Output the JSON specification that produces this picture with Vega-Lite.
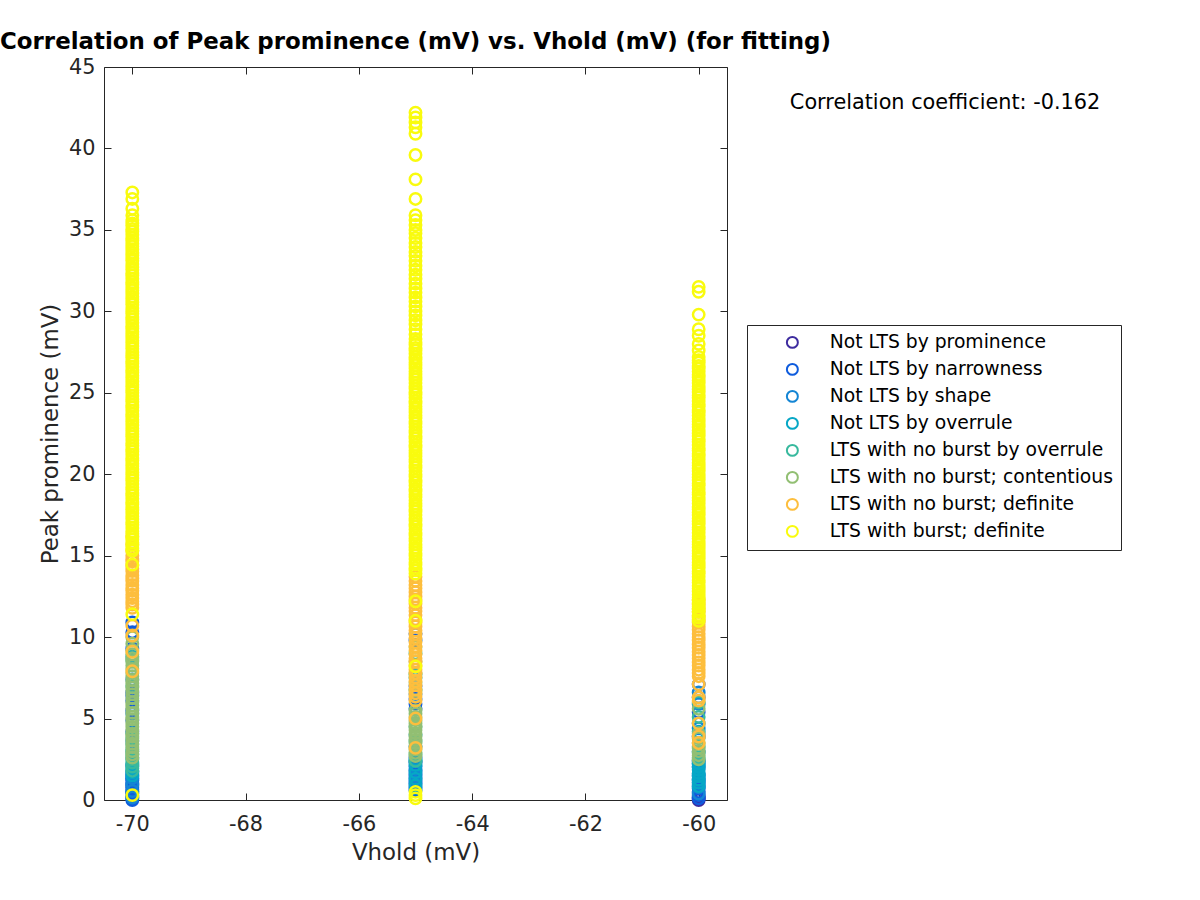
{
"$schema":"https://vega.github.io/schema/vega-lite/v6.json",
"width":623,"height":733,
"autosize":{"type":"none"},
"padding":{"left":104,"top":67,"right":473,"bottom":100},
"background":"white",
"config":{"view":{"stroke":null},"font":"DejaVu Sans"},
"title":{"text":"Correlation of Peak prominence (mV) vs. Vhold (mV) (for fitting)","font":"DejaVu Sans","fontSize":22.9,"fontWeight":"bold","color":"black","anchor":"middle","frame":"group","baseline":"alphabetic","offset":-16},
"layer":[
{"data":{"values":[
{"x":-70,"c":2,"y":0.0},{"x":-70,"c":2,"y":0.1},{"x":-70,"c":2,"y":0.25},{"x":-70,"c":2,"y":0.4},{"x":-70,"c":2,"y":0.5},{"x":-70,"c":2,"y":0.65},{"x":-70,"c":2,"y":0.8},{"x":-70,"c":2,"y":0.9},{"x":-70,"c":2,"y":1.05},{"x":-70,"c":2,"y":1.2},{"x":-70,"c":2,"y":1.3},{"x":-70,"c":2,"y":1.45},{"x":-70,"c":2,"y":1.6},{"x":-70,"c":2,"y":2.1},{"x":-70,"c":2,"y":4.2},{"x":-70,"c":2,"y":4.9},{"x":-70,"c":2,"y":5.5},{"x":-70,"c":2,"y":6.1},{"x":-70,"c":2,"y":6.4},{"x":-70,"c":2,"y":6.6},{"x":-70,"c":2,"y":9.3},{"x":-70,"c":2,"y":10.3},{"x":-70,"c":2,"y":10.9},
{"x":-70,"c":3,"y":0.15},{"x":-70,"c":3,"y":0.55},{"x":-70,"c":3,"y":0.95},{"x":-70,"c":3,"y":1.35},{"x":-70,"c":3,"y":1.75},{"x":-70,"c":3,"y":3.6},{"x":-70,"c":3,"y":5.3},{"x":-70,"c":3,"y":7.4},
{"x":-70,"c":4,"y":1.5},{"x":-70,"c":4,"y":1.7},{"x":-70,"c":4,"y":1.95},{"x":-70,"c":4,"y":2.2},{"x":-70,"c":4,"y":2.6},{"x":-70,"c":4,"y":3.0},{"x":-70,"c":4,"y":8.8},
{"x":-70,"c":5,"y":1.8},{"x":-70,"c":5,"y":2.05},{"x":-70,"c":5,"y":2.3},{"x":-70,"c":5,"y":2.5},{"x":-70,"c":5,"y":2.8},{"x":-70,"c":5,"y":3.1},{"x":-70,"c":5,"y":3.4},{"x":-70,"c":5,"y":3.8},{"x":-70,"c":5,"y":4.1},{"x":-70,"c":5,"y":7.0},{"x":-70,"c":5,"y":8.6},
{"x":-70,"c":6,"y":2.6},{"x":-70,"c":6,"y":2.8},{"x":-70,"c":6,"y":3.0},{"x":-70,"c":6,"y":3.25},{"x":-70,"c":6,"y":3.45},{"x":-70,"c":6,"y":3.65},{"x":-70,"c":6,"y":3.9},{"x":-70,"c":6,"y":4.05},{"x":-70,"c":6,"y":4.3},{"x":-70,"c":6,"y":4.5},{"x":-70,"c":6,"y":4.7},{"x":-70,"c":6,"y":4.95},{"x":-70,"c":6,"y":5.1},{"x":-70,"c":6,"y":5.35},{"x":-70,"c":6,"y":5.6},{"x":-70,"c":6,"y":5.8},{"x":-70,"c":6,"y":6.0},{"x":-70,"c":6,"y":6.25},{"x":-70,"c":6,"y":6.5},{"x":-70,"c":6,"y":6.7},{"x":-70,"c":6,"y":6.9},{"x":-70,"c":6,"y":7.15},{"x":-70,"c":6,"y":7.35},{"x":-70,"c":6,"y":7.6},{"x":-70,"c":6,"y":7.8},{"x":-70,"c":6,"y":8.05},{"x":-70,"c":6,"y":8.25},{"x":-70,"c":6,"y":8.5},{"x":-70,"c":6,"y":8.7},{"x":-70,"c":6,"y":8.95},{"x":-70,"c":6,"y":9.2},{"x":-70,"c":6,"y":9.6},{"x":-70,"c":6,"y":10.0},
{"x":-70,"c":7,"y":7.9},{"x":-70,"c":7,"y":9.1},{"x":-70,"c":7,"y":10.1},{"x":-70,"c":7,"y":10.7},{"x":-70,"c":7,"y":11.8},{"x":-70,"c":7,"y":12.0},{"x":-70,"c":7,"y":12.2},{"x":-70,"c":7,"y":12.4},{"x":-70,"c":7,"y":12.6},{"x":-70,"c":7,"y":12.85},{"x":-70,"c":7,"y":13.0},{"x":-70,"c":7,"y":13.2},{"x":-70,"c":7,"y":13.45},{"x":-70,"c":7,"y":13.6},{"x":-70,"c":7,"y":13.8},{"x":-70,"c":7,"y":14.05},{"x":-70,"c":7,"y":14.2},{"x":-70,"c":7,"y":14.4},{"x":-70,"c":7,"y":14.65},{"x":-70,"c":7,"y":14.8},{"x":-70,"c":7,"y":15.0},{"x":-70,"c":7,"y":15.3},{"x":-70,"c":7,"y":15.7},{"x":-70,"c":7,"y":16.2},
{"x":-70,"c":8,"y":0.3},{"x":-70,"c":8,"y":11.4},{"x":-70,"c":8,"y":14.45},
{"x":-70,"c":8,"y":15.3},{"x":-70,"c":8,"y":15.45},{"x":-70,"c":8,"y":15.65},{"x":-70,"c":8,"y":15.8},{"x":-70,"c":8,"y":16.0},{"x":-70,"c":8,"y":16.15},{"x":-70,"c":8,"y":16.35},{"x":-70,"c":8,"y":16.5},{"x":-70,"c":8,"y":16.7},{"x":-70,"c":8,"y":16.9},{"x":-70,"c":8,"y":17.05},{"x":-70,"c":8,"y":17.25},{"x":-70,"c":8,"y":17.4},{"x":-70,"c":8,"y":17.6},{"x":-70,"c":8,"y":17.8},{"x":-70,"c":8,"y":17.95},{"x":-70,"c":8,"y":18.15},{"x":-70,"c":8,"y":18.3},{"x":-70,"c":8,"y":18.5},{"x":-70,"c":8,"y":18.7},{"x":-70,"c":8,"y":18.85},{"x":-70,"c":8,"y":19.05},{"x":-70,"c":8,"y":19.2},{"x":-70,"c":8,"y":19.4},{"x":-70,"c":8,"y":19.6},{"x":-70,"c":8,"y":19.75},{"x":-70,"c":8,"y":19.95},{"x":-70,"c":8,"y":20.1},{"x":-70,"c":8,"y":20.3},{"x":-70,"c":8,"y":20.5},{"x":-70,"c":8,"y":20.65},{"x":-70,"c":8,"y":20.85},{"x":-70,"c":8,"y":21.0},{"x":-70,"c":8,"y":21.2},{"x":-70,"c":8,"y":21.4},{"x":-70,"c":8,"y":21.55},{"x":-70,"c":8,"y":21.75},{"x":-70,"c":8,"y":21.9},{"x":-70,"c":8,"y":22.1},{"x":-70,"c":8,"y":22.3},{"x":-70,"c":8,"y":22.45},{"x":-70,"c":8,"y":22.65},{"x":-70,"c":8,"y":22.8},{"x":-70,"c":8,"y":23.0},{"x":-70,"c":8,"y":23.2},{"x":-70,"c":8,"y":23.35},{"x":-70,"c":8,"y":23.55},{"x":-70,"c":8,"y":23.7},{"x":-70,"c":8,"y":23.9},{"x":-70,"c":8,"y":24.1},{"x":-70,"c":8,"y":24.25},{"x":-70,"c":8,"y":24.45},{"x":-70,"c":8,"y":24.6},{"x":-70,"c":8,"y":24.8},{"x":-70,"c":8,"y":25.0},{"x":-70,"c":8,"y":25.15},{"x":-70,"c":8,"y":25.35},{"x":-70,"c":8,"y":25.5},{"x":-70,"c":8,"y":25.7},{"x":-70,"c":8,"y":25.9},{"x":-70,"c":8,"y":26.05},{"x":-70,"c":8,"y":26.25},{"x":-70,"c":8,"y":26.4},{"x":-70,"c":8,"y":26.6},{"x":-70,"c":8,"y":26.8},{"x":-70,"c":8,"y":26.95},{"x":-70,"c":8,"y":27.15},{"x":-70,"c":8,"y":27.3},{"x":-70,"c":8,"y":27.5},{"x":-70,"c":8,"y":27.7},{"x":-70,"c":8,"y":27.85},{"x":-70,"c":8,"y":28.05},{"x":-70,"c":8,"y":28.2},{"x":-70,"c":8,"y":28.4},{"x":-70,"c":8,"y":28.6},{"x":-70,"c":8,"y":28.75},{"x":-70,"c":8,"y":28.95},{"x":-70,"c":8,"y":29.1},{"x":-70,"c":8,"y":29.3},{"x":-70,"c":8,"y":29.5},{"x":-70,"c":8,"y":29.65},{"x":-70,"c":8,"y":29.85},{"x":-70,"c":8,"y":30.0},{"x":-70,"c":8,"y":30.2},{"x":-70,"c":8,"y":30.4},{"x":-70,"c":8,"y":30.55},{"x":-70,"c":8,"y":30.75},{"x":-70,"c":8,"y":30.9},{"x":-70,"c":8,"y":31.1},{"x":-70,"c":8,"y":31.3},{"x":-70,"c":8,"y":31.45},{"x":-70,"c":8,"y":31.65},{"x":-70,"c":8,"y":31.8},{"x":-70,"c":8,"y":32.0},{"x":-70,"c":8,"y":32.2},{"x":-70,"c":8,"y":32.35},{"x":-70,"c":8,"y":32.55},{"x":-70,"c":8,"y":32.7},{"x":-70,"c":8,"y":32.9},{"x":-70,"c":8,"y":33.1},{"x":-70,"c":8,"y":33.25},{"x":-70,"c":8,"y":33.45},{"x":-70,"c":8,"y":33.6},{"x":-70,"c":8,"y":33.8},{"x":-70,"c":8,"y":34.0},{"x":-70,"c":8,"y":34.15},{"x":-70,"c":8,"y":34.35},{"x":-70,"c":8,"y":34.5},{"x":-70,"c":8,"y":34.7},{"x":-70,"c":8,"y":34.9},{"x":-70,"c":8,"y":35.05},{"x":-70,"c":8,"y":35.25},{"x":-70,"c":8,"y":35.4},{"x":-70,"c":8,"y":35.6},{"x":-70,"c":8,"y":35.9},{"x":-70,"c":8,"y":36.3},{"x":-70,"c":8,"y":36.9},{"x":-70,"c":8,"y":37.3},
{"x":-65,"c":2,"y":0.6},{"x":-65,"c":2,"y":0.8},{"x":-65,"c":2,"y":1.0},{"x":-65,"c":2,"y":1.2},{"x":-65,"c":2,"y":1.4},{"x":-65,"c":2,"y":1.6},{"x":-65,"c":2,"y":1.8},{"x":-65,"c":2,"y":2.05},{"x":-65,"c":2,"y":2.3},{"x":-65,"c":2,"y":2.6},{"x":-65,"c":2,"y":5.6},{"x":-65,"c":2,"y":5.9},{"x":-65,"c":2,"y":6.2},{"x":-65,"c":2,"y":7.0},{"x":-65,"c":2,"y":9.8},{"x":-65,"c":2,"y":10.2},
{"x":-65,"c":3,"y":0.7},{"x":-65,"c":3,"y":1.1},{"x":-65,"c":3,"y":1.5},{"x":-65,"c":3,"y":1.9},{"x":-65,"c":3,"y":2.4},{"x":-65,"c":3,"y":3.3},{"x":-65,"c":3,"y":6.5},
{"x":-65,"c":4,"y":0.9},{"x":-65,"c":4,"y":1.3},{"x":-65,"c":4,"y":1.7},{"x":-65,"c":4,"y":2.15},{"x":-65,"c":4,"y":2.5},{"x":-65,"c":4,"y":4.0},{"x":-65,"c":4,"y":7.5},
{"x":-65,"c":5,"y":2.4},{"x":-65,"c":5,"y":2.8},{"x":-65,"c":5,"y":3.6},{"x":-65,"c":5,"y":4.5},{"x":-65,"c":5,"y":6.8},{"x":-65,"c":5,"y":7.7},{"x":-65,"c":5,"y":9.0},
{"x":-65,"c":6,"y":2.7},{"x":-65,"c":6,"y":2.9},{"x":-65,"c":6,"y":3.1},{"x":-65,"c":6,"y":3.3},{"x":-65,"c":6,"y":3.5},{"x":-65,"c":6,"y":3.7},{"x":-65,"c":6,"y":3.9},{"x":-65,"c":6,"y":4.1},{"x":-65,"c":6,"y":4.3},{"x":-65,"c":6,"y":4.5},{"x":-65,"c":6,"y":4.7},{"x":-65,"c":6,"y":4.9},{"x":-65,"c":6,"y":5.1},{"x":-65,"c":6,"y":5.3},{"x":-65,"c":6,"y":5.5},{"x":-65,"c":6,"y":6.7},{"x":-65,"c":6,"y":7.2},{"x":-65,"c":6,"y":7.8},{"x":-65,"c":6,"y":8.5},{"x":-65,"c":6,"y":9.4},
{"x":-65,"c":7,"y":3.2},{"x":-65,"c":7,"y":5.0},{"x":-65,"c":7,"y":6.1},{"x":-65,"c":7,"y":6.35},{"x":-65,"c":7,"y":6.55},{"x":-65,"c":7,"y":6.8},{"x":-65,"c":7,"y":7.05},{"x":-65,"c":7,"y":7.3},{"x":-65,"c":7,"y":7.55},{"x":-65,"c":7,"y":7.8},{"x":-65,"c":7,"y":8.0},{"x":-65,"c":7,"y":8.25},{"x":-65,"c":7,"y":8.5},{"x":-65,"c":7,"y":8.7},{"x":-65,"c":7,"y":8.95},{"x":-65,"c":7,"y":9.2},{"x":-65,"c":7,"y":9.45},{"x":-65,"c":7,"y":9.7},{"x":-65,"c":7,"y":9.95},{"x":-65,"c":7,"y":10.2},{"x":-65,"c":7,"y":10.4},{"x":-65,"c":7,"y":10.65},{"x":-65,"c":7,"y":10.9},{"x":-65,"c":7,"y":11.1},{"x":-65,"c":7,"y":11.35},{"x":-65,"c":7,"y":11.6},{"x":-65,"c":7,"y":11.8},{"x":-65,"c":7,"y":12.05},{"x":-65,"c":7,"y":12.3},{"x":-65,"c":7,"y":12.5},{"x":-65,"c":7,"y":12.75},{"x":-65,"c":7,"y":13.0},{"x":-65,"c":7,"y":13.2},{"x":-65,"c":7,"y":13.45},{"x":-65,"c":7,"y":13.7},
{"x":-65,"c":8,"y":0.1},{"x":-65,"c":8,"y":0.3},{"x":-65,"c":8,"y":0.5},{"x":-65,"c":8,"y":8.2},{"x":-65,"c":8,"y":11.0},{"x":-65,"c":8,"y":12.2},
{"x":-65,"c":8,"y":13.9},{"x":-65,"c":8,"y":14.1},{"x":-65,"c":8,"y":14.25},{"x":-65,"c":8,"y":14.45},{"x":-65,"c":8,"y":14.6},{"x":-65,"c":8,"y":14.8},{"x":-65,"c":8,"y":15.0},{"x":-65,"c":8,"y":15.15},{"x":-65,"c":8,"y":15.35},{"x":-65,"c":8,"y":15.5},{"x":-65,"c":8,"y":15.7},{"x":-65,"c":8,"y":15.9},{"x":-65,"c":8,"y":16.05},{"x":-65,"c":8,"y":16.25},{"x":-65,"c":8,"y":16.4},{"x":-65,"c":8,"y":16.6},{"x":-65,"c":8,"y":16.8},{"x":-65,"c":8,"y":16.95},{"x":-65,"c":8,"y":17.15},{"x":-65,"c":8,"y":17.3},{"x":-65,"c":8,"y":17.5},{"x":-65,"c":8,"y":17.7},{"x":-65,"c":8,"y":17.85},{"x":-65,"c":8,"y":18.05},{"x":-65,"c":8,"y":18.2},{"x":-65,"c":8,"y":18.4},{"x":-65,"c":8,"y":18.6},{"x":-65,"c":8,"y":18.75},{"x":-65,"c":8,"y":18.95},{"x":-65,"c":8,"y":19.1},{"x":-65,"c":8,"y":19.3},{"x":-65,"c":8,"y":19.5},{"x":-65,"c":8,"y":19.65},{"x":-65,"c":8,"y":19.85},{"x":-65,"c":8,"y":20.0},{"x":-65,"c":8,"y":20.2},{"x":-65,"c":8,"y":20.4},{"x":-65,"c":8,"y":20.55},{"x":-65,"c":8,"y":20.75},{"x":-65,"c":8,"y":20.9},{"x":-65,"c":8,"y":21.1},{"x":-65,"c":8,"y":21.3},{"x":-65,"c":8,"y":21.45},{"x":-65,"c":8,"y":21.65},{"x":-65,"c":8,"y":21.8},{"x":-65,"c":8,"y":22.0},{"x":-65,"c":8,"y":22.2},{"x":-65,"c":8,"y":22.35},{"x":-65,"c":8,"y":22.55},{"x":-65,"c":8,"y":22.7},{"x":-65,"c":8,"y":22.9},{"x":-65,"c":8,"y":23.1},{"x":-65,"c":8,"y":23.25},{"x":-65,"c":8,"y":23.45},{"x":-65,"c":8,"y":23.6},{"x":-65,"c":8,"y":23.8},{"x":-65,"c":8,"y":24.0},{"x":-65,"c":8,"y":24.15},{"x":-65,"c":8,"y":24.35},{"x":-65,"c":8,"y":24.5},{"x":-65,"c":8,"y":24.7},{"x":-65,"c":8,"y":24.9},{"x":-65,"c":8,"y":25.05},{"x":-65,"c":8,"y":25.25},{"x":-65,"c":8,"y":25.4},{"x":-65,"c":8,"y":25.6},{"x":-65,"c":8,"y":25.8},{"x":-65,"c":8,"y":25.95},{"x":-65,"c":8,"y":26.15},{"x":-65,"c":8,"y":26.3},{"x":-65,"c":8,"y":26.5},{"x":-65,"c":8,"y":26.7},{"x":-65,"c":8,"y":26.85},{"x":-65,"c":8,"y":27.05},{"x":-65,"c":8,"y":27.2},{"x":-65,"c":8,"y":27.4},{"x":-65,"c":8,"y":27.6},{"x":-65,"c":8,"y":27.75},{"x":-65,"c":8,"y":27.95},{"x":-65,"c":8,"y":28.1},{"x":-65,"c":8,"y":28.3},{"x":-65,"c":8,"y":28.6},{"x":-65,"c":8,"y":28.9},{"x":-65,"c":8,"y":29.2},{"x":-65,"c":8,"y":29.45},{"x":-65,"c":8,"y":29.75},{"x":-65,"c":8,"y":30.0},{"x":-65,"c":8,"y":30.3},{"x":-65,"c":8,"y":30.6},{"x":-65,"c":8,"y":30.85},{"x":-65,"c":8,"y":31.15},{"x":-65,"c":8,"y":31.4},{"x":-65,"c":8,"y":31.7},{"x":-65,"c":8,"y":32.0},{"x":-65,"c":8,"y":32.25},{"x":-65,"c":8,"y":32.55},{"x":-65,"c":8,"y":32.8},{"x":-65,"c":8,"y":33.1},{"x":-65,"c":8,"y":33.4},{"x":-65,"c":8,"y":33.65},{"x":-65,"c":8,"y":33.95},{"x":-65,"c":8,"y":34.2},{"x":-65,"c":8,"y":34.5},{"x":-65,"c":8,"y":34.8},{"x":-65,"c":8,"y":35.0},{"x":-65,"c":8,"y":35.3},{"x":-65,"c":8,"y":35.6},{"x":-65,"c":8,"y":35.9},{"x":-65,"c":8,"y":36.9},{"x":-65,"c":8,"y":38.1},{"x":-65,"c":8,"y":39.6},{"x":-65,"c":8,"y":40.9},{"x":-65,"c":8,"y":41.3},{"x":-65,"c":8,"y":41.6},{"x":-65,"c":8,"y":41.9},{"x":-65,"c":8,"y":42.2},
{"x":-60,"c":1,"y":0.0},{"x":-60,"c":1,"y":0.1},{"x":-60,"c":1,"y":0.2},
{"x":-60,"c":2,"y":0.1},{"x":-60,"c":2,"y":0.3},{"x":-60,"c":2,"y":0.5},{"x":-60,"c":2,"y":0.7},{"x":-60,"c":2,"y":0.9},{"x":-60,"c":2,"y":1.1},{"x":-60,"c":2,"y":1.3},{"x":-60,"c":2,"y":1.5},{"x":-60,"c":2,"y":2.0},{"x":-60,"c":2,"y":2.4},{"x":-60,"c":2,"y":3.9},{"x":-60,"c":2,"y":5.4},{"x":-60,"c":2,"y":6.3},{"x":-60,"c":2,"y":7.1},
{"x":-60,"c":3,"y":0.4},{"x":-60,"c":3,"y":0.8},{"x":-60,"c":3,"y":1.2},{"x":-60,"c":3,"y":1.6},{"x":-60,"c":3,"y":2.2},{"x":-60,"c":3,"y":3.0},{"x":-60,"c":3,"y":4.4},{"x":-60,"c":3,"y":5.9},{"x":-60,"c":3,"y":6.6},
{"x":-60,"c":4,"y":0.85},{"x":-60,"c":4,"y":1.05},{"x":-60,"c":4,"y":1.25},{"x":-60,"c":4,"y":1.45},{"x":-60,"c":4,"y":1.65},{"x":-60,"c":4,"y":1.85},{"x":-60,"c":4,"y":2.05},{"x":-60,"c":4,"y":2.25},{"x":-60,"c":4,"y":2.45},{"x":-60,"c":4,"y":4.2},{"x":-60,"c":4,"y":4.7},
{"x":-60,"c":5,"y":2.6},{"x":-60,"c":5,"y":2.9},{"x":-60,"c":5,"y":3.3},{"x":-60,"c":5,"y":5.1},{"x":-60,"c":5,"y":6.0},
{"x":-60,"c":6,"y":2.5},{"x":-60,"c":6,"y":2.75},{"x":-60,"c":6,"y":3.0},{"x":-60,"c":6,"y":3.2},{"x":-60,"c":6,"y":3.5},{"x":-60,"c":6,"y":3.8},{"x":-60,"c":6,"y":4.1},{"x":-60,"c":6,"y":5.6},
{"x":-60,"c":7,"y":3.5},{"x":-60,"c":7,"y":3.9},{"x":-60,"c":7,"y":4.7},{"x":-60,"c":7,"y":6.1},{"x":-60,"c":7,"y":6.3},{"x":-60,"c":7,"y":7.1},{"x":-60,"c":7,"y":7.6},{"x":-60,"c":7,"y":7.8},{"x":-60,"c":7,"y":8.0},{"x":-60,"c":7,"y":8.25},{"x":-60,"c":7,"y":8.45},{"x":-60,"c":7,"y":8.7},{"x":-60,"c":7,"y":8.9},{"x":-60,"c":7,"y":9.1},{"x":-60,"c":7,"y":9.35},{"x":-60,"c":7,"y":9.55},{"x":-60,"c":7,"y":9.8},{"x":-60,"c":7,"y":10.0},{"x":-60,"c":7,"y":10.2},{"x":-60,"c":7,"y":10.45},{"x":-60,"c":7,"y":10.65},{"x":-60,"c":7,"y":10.9},{"x":-60,"c":7,"y":11.1},{"x":-60,"c":7,"y":11.3},{"x":-60,"c":7,"y":11.55},{"x":-60,"c":7,"y":11.75},{"x":-60,"c":7,"y":12.0},{"x":-60,"c":7,"y":12.3},
{"x":-60,"c":8,"y":11.0},{"x":-60,"c":8,"y":11.2},{"x":-60,"c":8,"y":11.35},{"x":-60,"c":8,"y":11.55},{"x":-60,"c":8,"y":11.7},{"x":-60,"c":8,"y":11.9},{"x":-60,"c":8,"y":12.1},{"x":-60,"c":8,"y":12.25},{"x":-60,"c":8,"y":12.45},{"x":-60,"c":8,"y":12.6},{"x":-60,"c":8,"y":12.8},{"x":-60,"c":8,"y":13.0},{"x":-60,"c":8,"y":13.15},{"x":-60,"c":8,"y":13.35},{"x":-60,"c":8,"y":13.5},{"x":-60,"c":8,"y":13.7},{"x":-60,"c":8,"y":13.9},{"x":-60,"c":8,"y":14.05},{"x":-60,"c":8,"y":14.25},{"x":-60,"c":8,"y":14.4},{"x":-60,"c":8,"y":14.6},{"x":-60,"c":8,"y":14.8},{"x":-60,"c":8,"y":14.95},{"x":-60,"c":8,"y":15.15},{"x":-60,"c":8,"y":15.3},{"x":-60,"c":8,"y":15.5},{"x":-60,"c":8,"y":15.7},{"x":-60,"c":8,"y":15.85},{"x":-60,"c":8,"y":16.05},{"x":-60,"c":8,"y":16.2},{"x":-60,"c":8,"y":16.4},{"x":-60,"c":8,"y":16.6},{"x":-60,"c":8,"y":16.75},{"x":-60,"c":8,"y":16.95},{"x":-60,"c":8,"y":17.1},{"x":-60,"c":8,"y":17.3},{"x":-60,"c":8,"y":17.5},{"x":-60,"c":8,"y":17.65},{"x":-60,"c":8,"y":17.85},{"x":-60,"c":8,"y":18.0},{"x":-60,"c":8,"y":18.2},{"x":-60,"c":8,"y":18.4},{"x":-60,"c":8,"y":18.55},{"x":-60,"c":8,"y":18.75},{"x":-60,"c":8,"y":18.9},{"x":-60,"c":8,"y":19.1},{"x":-60,"c":8,"y":19.3},{"x":-60,"c":8,"y":19.45},{"x":-60,"c":8,"y":19.65},{"x":-60,"c":8,"y":19.8},{"x":-60,"c":8,"y":20.0},{"x":-60,"c":8,"y":20.2},{"x":-60,"c":8,"y":20.35},{"x":-60,"c":8,"y":20.55},{"x":-60,"c":8,"y":20.7},{"x":-60,"c":8,"y":20.9},{"x":-60,"c":8,"y":21.1},{"x":-60,"c":8,"y":21.25},{"x":-60,"c":8,"y":21.45},{"x":-60,"c":8,"y":21.6},{"x":-60,"c":8,"y":21.8},{"x":-60,"c":8,"y":22.0},{"x":-60,"c":8,"y":22.15},{"x":-60,"c":8,"y":22.35},{"x":-60,"c":8,"y":22.5},{"x":-60,"c":8,"y":22.7},{"x":-60,"c":8,"y":22.9},{"x":-60,"c":8,"y":23.05},{"x":-60,"c":8,"y":23.25},{"x":-60,"c":8,"y":23.4},{"x":-60,"c":8,"y":23.6},{"x":-60,"c":8,"y":23.8},{"x":-60,"c":8,"y":23.95},{"x":-60,"c":8,"y":24.15},{"x":-60,"c":8,"y":24.3},{"x":-60,"c":8,"y":24.5},{"x":-60,"c":8,"y":24.7},{"x":-60,"c":8,"y":24.85},{"x":-60,"c":8,"y":25.05},{"x":-60,"c":8,"y":25.2},{"x":-60,"c":8,"y":25.4},{"x":-60,"c":8,"y":25.6},{"x":-60,"c":8,"y":25.75},{"x":-60,"c":8,"y":25.95},{"x":-60,"c":8,"y":26.1},{"x":-60,"c":8,"y":26.3},{"x":-60,"c":8,"y":26.5},{"x":-60,"c":8,"y":26.65},{"x":-60,"c":8,"y":26.85},{"x":-60,"c":8,"y":27.0},{"x":-60,"c":8,"y":27.2},{"x":-60,"c":8,"y":27.6},{"x":-60,"c":8,"y":28.0},{"x":-60,"c":8,"y":28.5},{"x":-60,"c":8,"y":28.9},{"x":-60,"c":8,"y":29.8},{"x":-60,"c":8,"y":31.2},{"x":-60,"c":8,"y":31.5}
]},
"mark":{"type":"point","shape":"circle","filled":false,"size":130,"strokeWidth":2.5,"opacity":1,"strokeOpacity":1},
"encoding":{
"x":{"field":"x","type":"quantitative","scale":{"domain":[-70.5,-59.5],"nice":false,"zero":false},
 "axis":{"orient":"bottom","values":[-70,-68,-66,-64,-62,-60],"labelExpr":"toString(datum.value)","title":"Vhold (mV)","titleFont":"DejaVu Sans","titleFontSize":22.9,"titleFontWeight":"normal","titleColor":"#262626","titlePadding":8,"labelFont":"DejaVu Sans","labelFontSize":20.8,"labelColor":"#262626","labelPadding":21,"labelFlush":false,"tickSize":-7,"tickColor":"#262626","domainColor":"#262626","domainWidth":1,"grid":false}},
"y":{"field":"y","type":"quantitative","scale":{"domain":[0,45],"nice":false,"zero":false},
 "axis":{"orient":"left","values":[0,5,10,15,20,25,30,35,40,45],"title":"Peak prominence (mV)","titleFont":"DejaVu Sans","titleFontSize":22.9,"titleFontWeight":"normal","titleColor":"#262626","titlePadding":6,"labelFont":"DejaVu Sans","labelFontSize":20.8,"labelColor":"#262626","labelPadding":16,"labelFlush":false,"tickSize":-7,"tickColor":"#262626","domainColor":"#262626","domainWidth":1,"grid":false}},
"stroke":{"field":"c","type":"nominal","scale":{"domain":[1,2,3,4,5,6,7,8],"range":["#3E2C9F","#0F5CDD","#1485D4","#06A7C6","#38B99E","#92BF73","#FDBE3D","#F9FB0E"]},
 "legend":{"orient":"none","legendX":643,"legendY":258,"title":null,"labelExpr":"['Not LTS by prominence','Not LTS by narrowness','Not LTS by shape','Not LTS by overrule','LTS with no burst by overrule','LTS with no burst; contentious','LTS with no burst; definite','LTS with burst; definite'][datum.value-1]","labelFont":"DejaVu Sans","labelFontSize":18.75,"labelColor":"black","labelLimit":400,"symbolType":"circle","symbolSize":120,"symbolStrokeWidth":2,"symbolOffset":28,"labelOffset":28,"padding":8,"rowPadding":6,"strokeColor":"#262626","fillColor":"white","cornerRadius":0}}
}},
{"data":{"values":[{"label":"Correlation coefficient: -0.162"}]},
"mark":{"type":"text","align":"left","baseline":"middle","font":"DejaVu Sans","fontSize":20.8,"color":"black"},
"encoding":{
"x":{"datum":-58.39,"type":"quantitative","axis":{"orient":"top","values":[-70,-68,-66,-64,-62,-60],"labels":false,"title":null,"tickSize":-7,"tickColor":"#262626","domainColor":"#262626","domainWidth":1,"grid":false}},
"y":{"datum":42.79,"type":"quantitative","axis":{"orient":"right","values":[0,5,10,15,20,25,30,35,40,45],"labels":false,"title":null,"tickSize":-7,"tickColor":"#262626","domainColor":"#262626","domainWidth":1,"grid":false}},
"text":{"field":"label"}
}}
],
"resolve":{"axis":{"x":"independent","y":"independent"}}
}
